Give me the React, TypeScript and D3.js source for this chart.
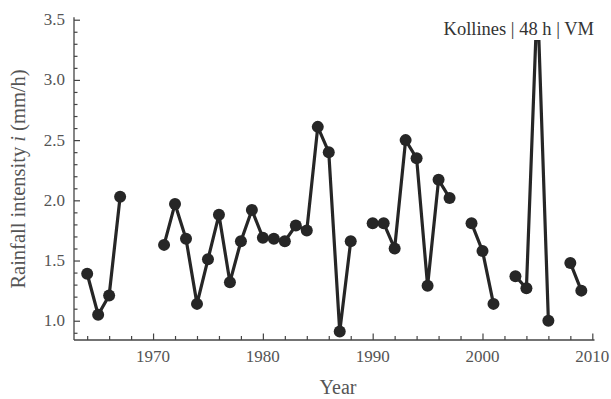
import { useEffect, useRef } from "react";
import * as d3 from "d3";

const years = [
  1964, 1965, 1966, 1967, 1968, 1969, 1970, 1971, 1972, 1973, 1974, 1975,
  1976, 1977, 1978, 1979, 1980, 1981, 1982, 1983, 1984, 1985, 1986, 1987,
  1988, 1989, 1990, 1991, 1992, 1993, 1994, 1995, 1996, 1997, 1998, 1999,
  2000, 2001, 2002, 2003, 2004, 2005, 2006, 2007, 2008, 2009,
];
// null = no record for that year (gap in the line)
const intensity: (number | null)[] = [
  1.39, 1.05, 1.21, 2.03, null, null, null, 1.63, 1.97, 1.68, 1.14, 1.51,
  1.88, 1.32, 1.66, 1.92, 1.69, 1.68, 1.66, 1.79, 1.75, 2.61, 2.4, 0.91,
  1.66, null, 1.81, 1.81, 1.6, 2.5, 2.35, 1.29, 2.17, 2.02, null, 1.81,
  1.58, 1.14, null, 1.37, 1.27, 3.7, 1.0, null, 1.48, 1.25,
];
const yTicks = [1.0, 1.5, 2.0, 2.5, 3.0, 3.5];
const xTicks = [1970, 1980, 1990, 2000, 2010];
const panelLabel = "Kollines | 48 h | VM";

const W = 611;
const H = 399;
const FONT = "'Liberation Serif', 'Times New Roman', serif";

export default function App() {
  const svgRef = useRef<SVGSVGElement>(null);

  useEffect(() => {
    const svg = svgRef.current;
    if (!svg) return;
    const sel = d3.select(svg);
    sel.selectAll("*").remove();

    const left = 74;
    const right = 594.5;
    const top = 17.3;
    const bottom = 340;

    const x = d3.scaleLinear().domain([1962.8, 2010.2]).range([left, right]);
    const y = d3.scaleLinear().domain([0.84, 3.52]).range([bottom, top]);

    const pts = years.map((yr, i) => ({ yr, v: intensity[i] }));

    sel
      .append("defs")
      .append("clipPath")
      .attr("id", "plot-clip")
      .append("rect")
      .attr("x", left)
      .attr("y", top)
      .attr("width", right - left)
      .attr("height", bottom - top);

    const plot = sel.append("g").attr("clip-path", "url(#plot-clip)");

    const line = d3
      .line<{ yr: number; v: number | null }>()
      .defined((d) => d.v !== null)
      .x((d) => x(d.yr))
      .y((d) => y(d.v as number));

    plot
      .append("path")
      .datum(pts)
      .attr("d", line)
      .attr("fill", "none")
      .attr("stroke", "#262626")
      .attr("stroke-width", 3.2)
      .attr("stroke-linejoin", "miter");

    plot
      .selectAll("circle")
      .data(pts.filter((d) => d.v !== null))
      .enter()
      .append("circle")
      .attr("cx", (d) => x(d.yr))
      .attr("cy", (d) => y(d.v as number))
      .attr("r", 6)
      .attr("fill", "#262626");

    // axes (ticks point inward)
    const axisColor = "#444";
    const textColor = "#555";

    const yAxis = d3
      .axisLeft(y)
      .tickValues(d3.range(9, 36).map((t) => t / 10))
      .tickSizeInner(-3.5)
      .tickSizeOuter(0)
      .tickFormat(() => "");
    const gy = sel.append("g").attr("transform", `translate(${left},0)`).call(yAxis);
    gy.select(".domain").attr("stroke", axisColor).attr("stroke-width", 1.3);
    gy.selectAll(".tick line")
      .attr("stroke", axisColor)
      .attr("stroke-width", 1.2)
      .attr("x2", (d) => (yTicks.some((t) => Math.abs(t - (d as number)) < 1e-6) ? 6 : 3.5));
    gy.select(".domain").attr("d", `M0,${bottom}V${top}`);

    sel
      .append("g")
      .selectAll("text")
      .data(yTicks)
      .enter()
      .append("text")
      .attr("x", left - 9)
      .attr("y", (d) => y(d) + 5.5)
      .attr("text-anchor", "end")
      .attr("font-family", FONT)
      .attr("font-size", 17)
      .attr("fill", textColor)
      .text((d) => d.toFixed(1));

    const xAxis = d3
      .axisBottom(x)
      .tickValues(d3.range(1964, 2011, 2))
      .tickSizeInner(-4)
      .tickSizeOuter(0)
      .tickFormat(() => "");
    const gx = sel.append("g").attr("transform", `translate(0,${bottom})`).call(xAxis);
    gx.select(".domain").attr("stroke", axisColor).attr("stroke-width", 1.3).attr("d", `M${left},0H${right}`);
    gx.selectAll(".tick line")
      .attr("stroke", axisColor)
      .attr("stroke-width", 1.2)
      .attr("y2", (d) => ((d as number) % 10 === 0 ? -6.5 : -4));

    sel
      .append("g")
      .selectAll("text")
      .data(xTicks)
      .enter()
      .append("text")
      .attr("x", (d) => x(d))
      .attr("y", bottom + 22)
      .attr("text-anchor", "middle")
      .attr("font-family", FONT)
      .attr("font-size", 17)
      .attr("fill", textColor)
      .text((d) => String(d));

    // axis titles
    sel
      .append("text")
      .attr("x", 338)
      .attr("y", 394)
      .attr("text-anchor", "middle")
      .attr("font-family", FONT)
      .attr("font-size", 20)
      .attr("fill", textColor)
      .text("Year");

    const yt = sel
      .append("text")
      .attr("transform", `translate(25,179) rotate(-90)`)
      .attr("text-anchor", "middle")
      .attr("font-family", FONT)
      .attr("font-size", 20.5)
      .attr("fill", textColor);
    yt.append("tspan").text("Rainfall intensity ");
    yt.append("tspan").attr("font-style", "italic").text("i");
    yt.append("tspan").text(" (mm/h)");

    // panel label on white box (covers the clipped peak)
    sel
      .append("rect")
      .attr("x", 438)
      .attr("y", 12)
      .attr("width", 162)
      .attr("height", 28)
      .attr("fill", "#fff");
    sel
      .append("text")
      .attr("x", 594)
      .attr("y", 35)
      .attr("text-anchor", "end")
      .attr("font-family", FONT)
      .attr("font-size", 18.5)
      .attr("fill", "#333")
      .text(panelLabel);
  }, []);

  return (
    <svg
      ref={svgRef}
      width={W}
      height={H}
      style={{ position: "absolute", left: 0, top: 0, background: "#fff" }}
    />
  );
}
